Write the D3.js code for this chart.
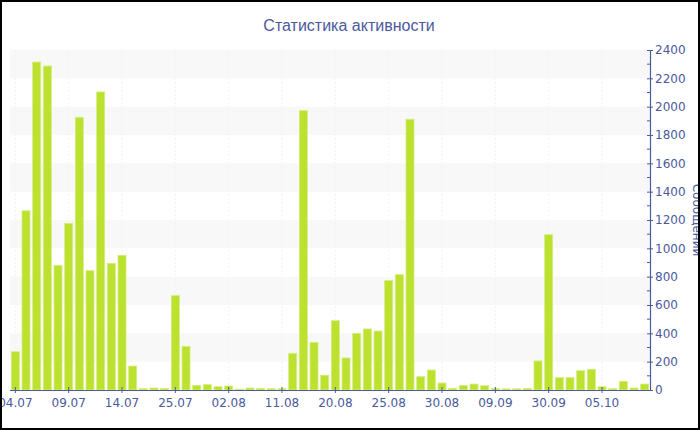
<!DOCTYPE html>
<html><head><meta charset="utf-8">
<script src="https://cdn.jsdelivr.net/npm/d3@7"></script>
<style>body{margin:0;background:#fff}svg{display:block}</style>
</head><body>
<svg id="c" width="700" height="430"></svg>
<script>
const title = "Статистика активности";
const yTitle = "Сообщений";
const values = [270,1265,2315,2287,880,1176,1925,842,2104,894,
  951,169,9,14,10,666,308,33,38,23,
  28,6,14,10,9,9,259,1972,336,104,
  489,226,400,431,416,772,814,1911,94,141,
  49,12,31,42,30,10,8,8,10,205,
  1096,87,87,136,146,23,9,61,14,42];
const categories = values.map((d,i)=>i);
const tickLabels = ["04.07","09.07","14.07","25.07","02.08","11.08","20.08","25.08","30.08","09.09","30.09","05.10"];
const yTicks = [0,200,400,600,800,1000,1200,1400,1600,1800,2000,2200,2400];

(function(){
const svg = d3.select("#c");
const W=700,H=430;
const pL=10,pR=650,pT=50,pB=390;
const axisColor="#4d5b9e", textColor="#4a5a9c";
const font="DejaVu Sans, Verdana, sans-serif";

const x = d3.scaleBand().domain(categories).range([pL,pR]).paddingInner(0.25).paddingOuter(0.125);
const y = d3.scaleLinear().domain([0,2400]).range([pB,pT]);

const bands = d3.range(200,2400,400);
svg.append("g").selectAll("rect").data(bands).join("rect")
  .attr("x",pL).attr("width",pR-pL)
  .attr("y",d=>y(d+200)).attr("height",d=>y(d)-y(d+200))
  .attr("fill","#f8f8f8");

const tickCats = categories.filter(i=>i%5===0);
svg.append("g").selectAll("line").data(tickCats).join("line")
  .attr("x1",d=>x(d)+x.bandwidth()/2).attr("x2",d=>x(d)+x.bandwidth()/2)
  .attr("y1",pT).attr("y2",pB)
  .attr("stroke","#f3f3f3").attr("stroke-dasharray","2,2");

svg.append("g").selectAll("rect").data(values).join("rect")
  .attr("x",(d,i)=>x(categories[i])).attr("width",x.bandwidth())
  .attr("y",d=>y(d)).attr("height",d=>pB-y(d))
  .attr("fill","#bde12f").attr("stroke","#d3ee78").attr("stroke-width",0.8);

const xa = svg.append("g").attr("transform",`translate(0,${pB})`)
  .call(d3.axisBottom(x).tickValues(tickCats).tickSize(3).tickFormat(d=>tickLabels[d/5]));
xa.select(".domain").attr("d",`M${pL},0.5H${pR}`).attr("stroke",axisColor).attr("stroke-width",1.2);
xa.selectAll(".tick line").attr("stroke",axisColor).attr("y1",-3).attr("y2",3);
xa.selectAll(".tick text").attr("fill",textColor).attr("font-family",font).attr("font-size",12).attr("dy","0.9em");

const ya = svg.append("g").attr("transform",`translate(${pR},0)`)
  .call(d3.axisRight(y).tickValues(yTicks).tickSize(3).tickPadding(2).tickFormat(d3.format("d")));
ya.select(".domain").attr("d",`M0.5,${pT}V${pB}`).attr("stroke",axisColor).attr("stroke-width",1.2);
ya.selectAll(".tick line").attr("stroke",axisColor).attr("x1",-3).attr("x2",3);
ya.selectAll(".tick text").attr("fill",textColor).attr("font-family",font).attr("font-size",12);
svg.append("g").selectAll("line").data(d3.range(100,2400,200)).join("line")
  .attr("x1",pR-3).attr("x2",pR).attr("y1",d=>y(d)).attr("y2",d=>y(d))
  .attr("stroke",axisColor);

svg.append("text").attr("x",349).attr("y",31).attr("text-anchor","middle")
  .attr("fill",textColor).attr("font-family","Liberation Sans, Arial, sans-serif").attr("font-size",16).text(title);
svg.append("text").attr("transform","translate(693,220) rotate(90)").attr("text-anchor","middle")
  .attr("fill",textColor).attr("font-family",font).attr("font-size",12).text(yTitle);

svg.append("rect").attr("x",0).attr("y",0).attr("width",W).attr("height",H)
  .attr("fill","none").attr("stroke","#000").attr("stroke-width",4);
})();
</script>
</body></html>
